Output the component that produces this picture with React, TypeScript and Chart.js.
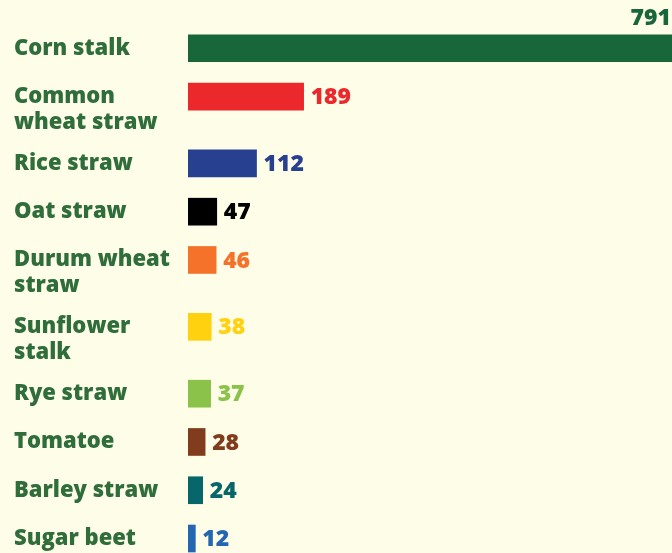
import React, { useEffect, useRef } from "react";
import { Chart, registerables } from "chart.js";

Chart.register(...registerables);

const categories: string[][] = [
  ["Corn stalk"],
  ["Common", "wheat straw"],
  ["Rice straw"],
  ["Oat straw"],
  ["Durum wheat", "straw"],
  ["Sunflower", "stalk"],
  ["Rye straw"],
  ["Tomatoe"],
  ["Barley straw"],
  ["Sugar beet"],
];
const values: number[] = [791, 189, 112, 47, 46, 38, 37, 28, 24, 12];
const valueLabels: string[] = ["791", "189", "112", "47", "46", "38", "37", "28", "24", "12"];
const barColors: string[] = [
  "#17673A",
  "#EB292D",
  "#27408F",
  "#000000",
  "#F4722A",
  "#FFD10F",
  "#8BC34A",
  "#813B1D",
  "#07666A",
  "#2366B1",
];

const BG = "#FEFDE7";
const LABEL_COLOR = "#2F6D3B";
const FONT_FAMILY = '"Open Sans", "DejaVu Sans", sans-serif';
const EXTRA_LINE_GAP = 0.385; // extra row space per additional label line

// Row positions derived from the number of lines in each label
const rowPositions: number[] = categories.reduce<number[]>((acc, lines, i) => {
  if (i === 0) return [0];
  const prev = acc[i - 1];
  const prevLines = categories[i - 1].length;
  return [...acc, prev + 1 + EXTRA_LINE_GAP * (prevLines - 1)];
}, []);

const labelPlugin = {
  id: "labelPlugin",
  beforeDraw(chart: any) {
    const { ctx, width, height } = chart;
    ctx.save();
    ctx.fillStyle = BG;
    ctx.fillRect(0, 0, width, height);
    ctx.restore();
  },
  afterDatasetsDraw(chart: any) {
    const { ctx, width } = chart;
    const meta = chart.getDatasetMeta(0);
    ctx.save();
    meta.data.forEach((bar: any, i: number) => {
      // category label
      ctx.font = `800 22px ${FONT_FAMILY}`;
      ctx.fillStyle = LABEL_COLOR;
      ctx.textAlign = "left";
      ctx.textBaseline = "middle";
      categories[i].forEach((line, j) => {
        ctx.fillText(line, 14, bar.y + j * 26);
      });
      // value label
      ctx.font = `800 23px ${FONT_FAMILY}`;
      ctx.fillStyle = barColors[i];
      const txt = valueLabels[i];
      const w = ctx.measureText(txt).width;
      const right = Math.max(bar.x, bar.base);
      if (right + 7 + w > width) {
        ctx.textAlign = "right";
        ctx.fillText(txt, width - 1, bar.y - bar.height / 2 - 16);
      } else {
        ctx.textAlign = "left";
        ctx.fillText(txt, right + 7, bar.y + 1);
      }
    });
    ctx.restore();
  },
};

export default function App() {
  const canvasRef = useRef<HTMLCanvasElement | null>(null);

  useEffect(() => {
    document.body.style.margin = "0";
    document.body.style.background = BG;
    const canvas = canvasRef.current;
    if (!canvas) return;
    const lastPos = rowPositions[rowPositions.length - 1];
    const chart = new Chart(canvas, {
      type: "bar",
      data: {
        datasets: [
          {
            data: values.map((v, i) => ({ x: v, y: rowPositions[i] })),
            backgroundColor: barColors,
            borderWidth: 0,
            barThickness: 27,
          },
        ],
      },
      options: {
        indexAxis: "y",
        animation: false,
        responsive: false,
        layout: { padding: { left: 188, right: 0, top: 0, bottom: 0 } },
        plugins: {
          legend: { display: false },
          tooltip: { enabled: false },
          title: { display: false },
        },
        scales: {
          x: {
            type: "linear",
            display: false,
            min: 0,
            max: Math.max(...values),
          },
          y: {
            type: "linear",
            display: false,
            offset: false,
            reverse: true,
            min: -1,
            max: lastPos + 0.3,
          },
        },
      },
      plugins: [labelPlugin],
    } as any);
    return () => chart.destroy();
  }, []);

  return (
    <div style={{ width: 672, height: 553, background: BG }}>
      <canvas ref={canvasRef} width={672} height={553} style={{ display: "block" }} />
    </div>
  );
}
